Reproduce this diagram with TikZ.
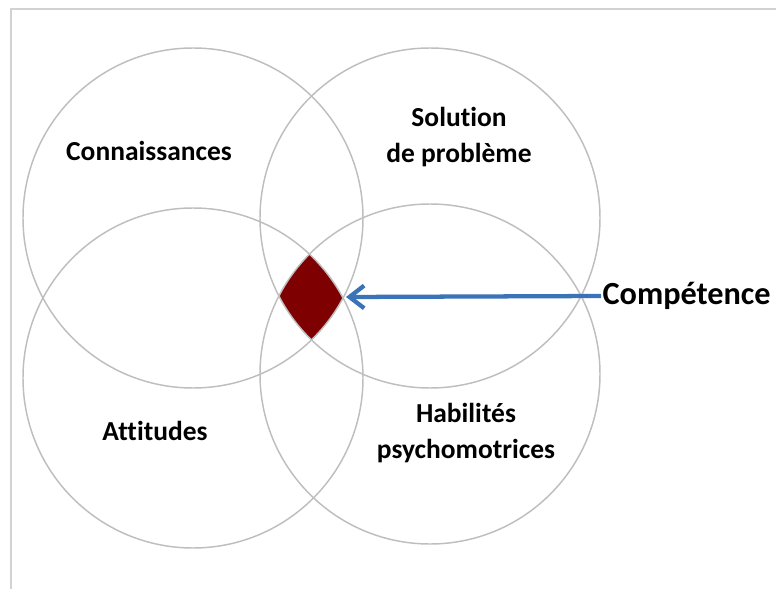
\documentclass[tikz,border=0pt]{standalone}
\usepackage{fontspec}
\setmainfont{Carlito}[Ligatures=NoCommon]
\usetikzlibrary{positioning, arrows.meta}
\definecolor{ringgray}{HTML}{BEBEBE}
\definecolor{framegray}{HTML}{D2D2D2}
\definecolor{compred}{HTML}{7F0000}
\definecolor{arrowblue}{HTML}{3A73B7}
\tikzstyle{arrow} = [arrowblue, line width=3.2pt, -{Straight Barb[length=11pt,width=17pt]}]

\begin{document}
\begin{tikzpicture}[x=0.75pt,y=-0.75pt]
                    \tikzstyle{every node}=[font=\bfseries\fontsize{20.6}{26.5}\selectfont]
                    \tikzstyle{ring} = [draw=ringgray, line width=1.1pt]
                    \tikzstyle{area} = [align=center, inner sep=0pt]
                    \tikzstyle{big} = [font=\bfseries\fontsize{24.2}{29}\selectfont]

                    \useasboundingbox (0,0) rectangle (776,589);
                    \draw[framegray, line width=0.9pt] (11,589) -- (11,9) -- (776,9);

                    % centres des cercles
                    \coordinate (c1) at (193,218);
                    \coordinate (c2) at (430,218);
                    \coordinate (c3) at (193,378);
                    \coordinate (c4) at (430,374);

                    % zone commune
                    \begin{scope}
                        \clip (c1) circle[radius=170];
                        \clip (c2) circle[radius=170];
                        \clip (c3) circle[radius=170];
                        \fill[compred] (c4) circle[radius=170];
                    \end{scope}

                    \draw[ring] (c1) circle[radius=170];
                    \draw[ring] (c2) circle[radius=170];
                    \draw[ring] (c3) circle[radius=170];
                    \draw[ring] (c4) circle[radius=170];

                    \node[area](v1) at (149,151) {Connaissances};
                    \node[area](v2) at (459,137) {Solution\\de problème};
                    \node[area](v3) at (155,431) {Attitudes};
                    \node[area](v4) at (466,433) {Habilités\\psychomotrices};
                    \node[big, inner sep=1pt, anchor=west](v5) at (601,296) {Compétence};

                    \coordinate (tip) at (346,297);
                    \draw[arrow] (v5.west) -- (tip);

            \end{tikzpicture}
\end{document}
